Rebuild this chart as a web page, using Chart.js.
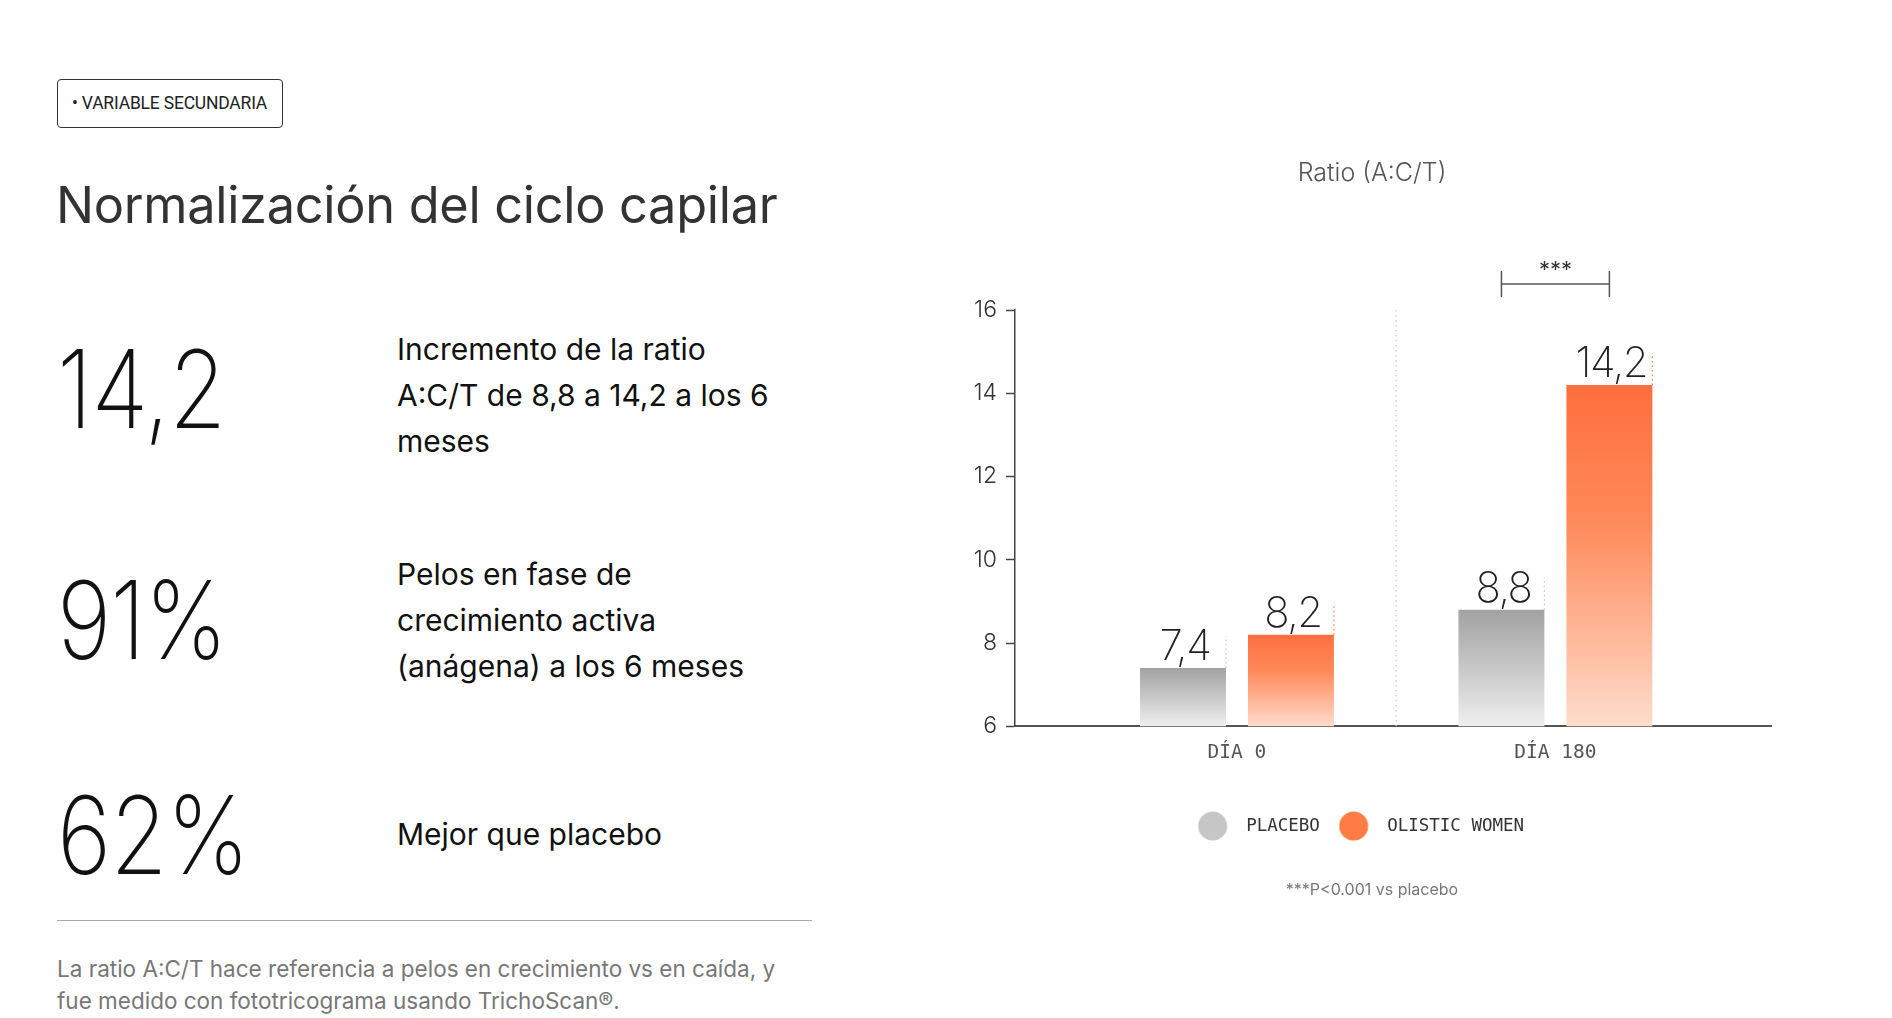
<!DOCTYPE html>
<html lang="es">
<head>
<meta charset="utf-8">
<title>Normalización del ciclo capilar</title>
<script src="https://cdn.jsdelivr.net/npm/chart.js@4.4.1/dist/chart.umd.min.js"></script>
<style>
  html, body { margin: 0; padding: 0; background: #fff; }
  body { width: 1892px; height: 1018px; position: relative; overflow: hidden; font-family: Inter, 'Noto Sans', sans-serif; color: #222; }
  .abs { position: absolute; white-space: nowrap; }
  .tag { left: 57px; top: 79px; width: 226px; height: 49px; border: 1px solid #333; border-radius: 4px; box-sizing: border-box;
         font-family: Roboto, sans-serif; font-size: 17.5px; line-height: 47px; padding-left: 14px; color: #222; letter-spacing: -0.2px; }
  h1 { margin: 0; left: 56px; top: 180px; font-size: 50.5px; line-height: 50px; font-weight: 400; color: #333; letter-spacing: -0.3px; }
  .big { left: 57px; font-size: 108px; line-height: 106px; font-weight: 200; color: #111; transform: scaleX(0.86); transform-origin: left top; letter-spacing: -1px; }
  .desc { left: 397px; font-size: 30px; line-height: 46px; color: #111; }
  .rule { left: 57px; top: 920px; width: 755px; height: 0; border-top: 1px solid #aaa; }
  .note { left: 57px; top: 953px; font-size: 22.5px; line-height: 32px; color: #777; }
  #wrap { position: absolute; left: 880px; top: 130px; width: 980px; height: 800px; }
</style>
</head>
<body>
<div class="abs tag">• VARIABLE SECUNDARIA</div>
<h1 class="abs">Normalización del ciclo capilar</h1>

<div class="abs big" style="top:336px">14,2</div>
<div class="abs desc" style="top:326px">Incremento de la ratio<br>A:C/T de 8,8 a 14,2 a los 6<br>meses</div>

<div class="abs big" style="top:567px">91%</div>
<div class="abs desc" style="top:551px">Pelos en fase de<br>crecimiento activa<br>(anágena) a los 6 meses</div>

<div class="abs big" style="top:782px">62%</div>
<div class="abs desc" style="top:811px">Mejor que placebo</div>

<div class="abs rule"></div>
<div class="abs note">La ratio A:C/T hace referencia a pelos en crecimiento vs en caída, y<br>fue medido con fototricograma usando TrichoScan®.</div>

<div id="wrap"><canvas id="ratio-chart"></canvas></div>

<script>
// values
const days = ['DÍA 0', 'DÍA 180'];
const seriesNames = ['PLACEBO', 'OLISTIC WOMEN'];
const placebo = [7.4, 8.8];
const olistic = [8.2, 14.2];
const yMin = 6, yMax = 16, yStep = 2;
const significance = '***';
const chartTitle = 'Ratio (A:C/T)';
const footnote = '***P<0.001 vs placebo';

const colors = {
  grayTop: '#a2a2a2', grayMid: '#c0c0c0', grayBottom: '#efefef',
  orangeTop: '#ff6e3e', orangeMid: '#ff8a5a', orangeBottom: '#ffdccc',
  grayDot: '#c4c4c4', orangeDot: '#ff7d45',
  axis: '#444', text: '#333', soft: '#777',
};

Chart.defaults.font.family = 'Inter, sans-serif';
Chart.defaults.color = colors.text;

// vertical fade inside each bar, from its top down to the baseline
function barFill(top, mid, bottom) {
  return (c) => {
    const chart = c.chart;
    if (!chart.chartArea || !c.parsed) return top;
    const y = chart.scales.y;
    const y0 = y.getPixelForValue(c.parsed.y);
    const y1 = y.getPixelForValue(yMin);
    const g = chart.ctx.createLinearGradient(0, y0, 0, y1);
    g.addColorStop(0, top);
    g.addColorStop(0.4, mid);
    g.addColorStop(1, bottom);
    return g;
  };
}

// legend dot: circle drawn on the left of a wider transparent canvas
function legendDot(color) {
  const c = document.createElement('canvas');
  c.width = 62; c.height = 30;
  const x = c.getContext('2d');
  x.fillStyle = color;
  x.beginPath();
  x.arc(15, 15, 14.5, 0, Math.PI * 2);
  x.fill();
  return c;
}
const dots = [legendDot('#c6c6c6'), legendDot('#ff7d45')];

const fmt = v => v.toFixed(1).replace('.', ',');

const decorPlugin = {
  id: 'decor',
  beforeDatasetsDraw(chart) {
    const { ctx, chartArea, scales } = chart;
    const xMid = scales.x.getPixelForValue(0.5);
    ctx.save();
    ctx.strokeStyle = '#c9c9c9';
    ctx.lineWidth = 1.2;
    ctx.setLineDash([1.5, 3.5]);
    ctx.beginPath();
    ctx.moveTo(xMid, chartArea.top);
    ctx.lineTo(xMid, chartArea.bottom);
    ctx.stroke();
    ctx.restore();
  },
  afterDatasetsDraw(chart) {
    const { ctx } = chart;
    ctx.save();
    chart.data.datasets.forEach((ds, di) => {
      const meta = chart.getDatasetMeta(di);
      meta.data.forEach((bar, i) => {
        const right = bar.x + bar.width / 2;
        // small dotted tick rising from the bar's right edge
        ctx.strokeStyle = di === 0 ? colors.grayDot : colors.orangeDot;
        ctx.lineWidth = 1.2;
        ctx.setLineDash([1.5, 3]);
        ctx.beginPath();
        ctx.moveTo(right, bar.y);
        ctx.lineTo(right, bar.y - 32);
        ctx.stroke();
        ctx.setLineDash([]);
        // value label
        ctx.fillStyle = '#222';
        ctx.font = '200 42px Inter, sans-serif';
        ctx.letterSpacing = '-1.5px';
        ctx.textAlign = 'center';
        ctx.textBaseline = 'alphabetic';
        ctx.fillText(fmt(ds.data[i]), bar.x + 2, bar.y - 8);
        ctx.letterSpacing = '0px';
      });
    });
    // significance bracket over the last group
    const last = days.length - 1;
    const a = chart.getDatasetMeta(0).data[last];
    const b = chart.getDatasetMeta(1).data[last];
    const yb = chart.scales.y.getPixelForValue(yMax) - 26;
    ctx.strokeStyle = '#555';
    ctx.lineWidth = 1.5;
    ctx.beginPath();
    ctx.moveTo(a.x, yb - 13); ctx.lineTo(a.x, yb + 13);
    ctx.moveTo(a.x, yb); ctx.lineTo(b.x, yb);
    ctx.moveTo(b.x, yb - 13); ctx.lineTo(b.x, yb + 13);
    ctx.stroke();
    ctx.fillStyle = '#333';
    ctx.font = '400 22px Inter, sans-serif';
    ctx.textAlign = 'center';
    ctx.textBaseline = 'middle';
    ctx.fillText(significance, (a.x + b.x) / 2, yb - 14);
    ctx.restore();
  }
};

new Chart(document.getElementById('ratio-chart'), {
  type: 'bar',
  data: {
    labels: days.map((d, i) => i),
    datasets: [
      { label: seriesNames[0], data: placebo, backgroundColor: barFill(colors.grayTop, colors.grayMid, colors.grayBottom), borderWidth: 0 },
      { label: seriesNames[1], data: olistic, backgroundColor: barFill(colors.orangeTop, colors.orangeMid, colors.orangeBottom), borderWidth: 0 },
    ],
  },
  options: {
    responsive: true,
    maintainAspectRatio: false,
    animation: false,
    categoryPercentage: 0.678,
    barPercentage: 0.796,
    layout: { padding: { left: 93, right: 89, top: 0, bottom: 0 } },
    scales: {
      x: {
        type: 'linear', offset: false, min: -0.697, max: 1.677,
        afterBuildTicks: s => { s.ticks = days.map((d, i) => ({ value: i })); },
        afterFit: s => { s.height = 50; },
        grid: { display: false, drawTicks: false },
        border: { display: true, color: '#555', width: 2 },
        ticks: { callback: v => days[v], padding: 15, color: '#555', font: { family: "'DejaVu Sans Mono', monospace", size: 19.5 } },
      },
      y: {
        min: yMin, max: yMax,
        afterFit: s => { s.width = 42; },
        grid: { drawOnChartArea: false, drawTicks: true, tickLength: 9, tickWidth: 1.5, tickColor: colors.axis },
        border: { display: true, color: colors.axis, width: 1.5 },
        ticks: { stepSize: yStep, padding: 9, color: colors.text, font: { size: 23, weight: '300' } },
      },
    },
    plugins: {
      title: { display: true, text: chartTitle, color: '#555', font: { size: 25, weight: '300' }, padding: { top: 28, bottom: 122 } },
      subtitle: { display: true, position: 'bottom', text: footnote, color: colors.soft, font: { size: 16, weight: '400' }, padding: { top: 36, bottom: 30 } },
      legend: {
        position: 'bottom',
        labels: {
          usePointStyle: true, padding: 41, color: colors.text,
          font: { family: "'DejaVu Sans Mono', monospace", size: 17.5 },
          generateLabels: chart => Chart.defaults.plugins.legend.labels.generateLabels(chart).map((it, i) => ({ ...it, pointStyle: dots[i] })),
        },
      },
      tooltip: { enabled: false },
    },
  },
  plugins: [decorPlugin],
});
</script>
</body>
</html>
